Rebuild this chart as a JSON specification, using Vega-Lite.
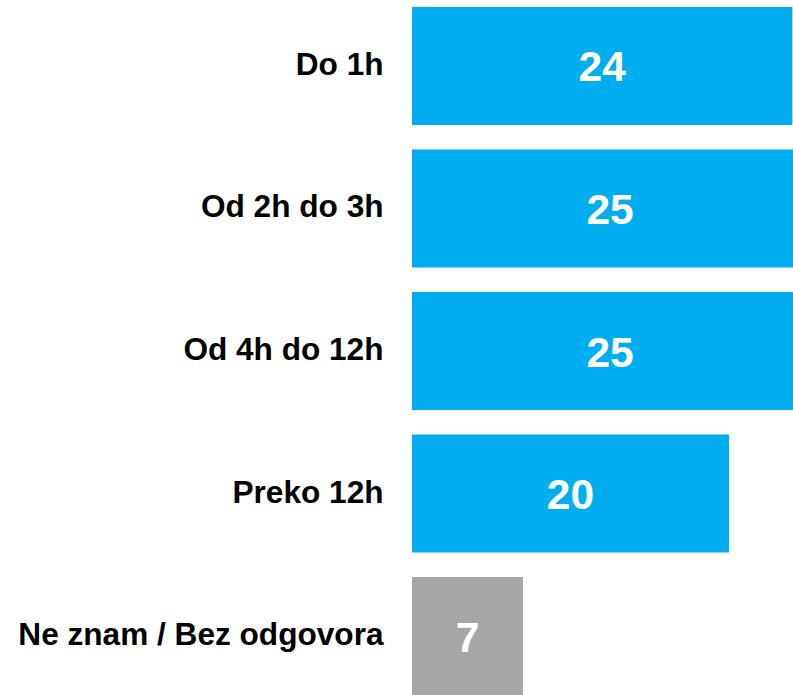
{
  "$schema": "https://vega.github.io/schema/vega-lite/v6.json",
  "autosize": "none",
  "width": 381,
  "height": 688,
  "padding": {"left": 412, "top": 7, "right": 0, "bottom": 0},
  "background": "white",
  "config": {"view": {"stroke": null}},
  "data": {
    "values": [
      {"category": "Do 1h", "value": 24, "group": "a"},
      {"category": "Od 2h do 3h", "value": 25, "group": "a"},
      {"category": "Od 4h do 12h", "value": 25, "group": "a"},
      {"category": "Preko 12h", "value": 20, "group": "a"},
      {"category": "Ne znam / Bez odgovora", "value": 7, "group": "b"}
    ]
  },
  "transform": [{"calculate": "datum.value / 2", "as": "mid"}],
  "encoding": {
    "y": {
      "field": "category",
      "type": "nominal",
      "sort": null,
      "scale": {"paddingInner": 0.172, "paddingOuter": 0},
      "axis": {
        "title": null,
        "domain": false,
        "ticks": false,
        "labelPadding": 29,
        "labelFont": "Liberation Sans",
        "labelFontWeight": "bold",
        "labelFontSize": 31.6,
        "labelColor": "#000000",
        "labelLimit": 500
      }
    }
  },
  "layer": [
    {
      "mark": {"type": "bar", "clip": true},
      "encoding": {
        "x": {
          "field": "value",
          "type": "quantitative",
          "scale": {"domain": [0, 24.04], "nice": false, "zero": true},
          "axis": null
        },
        "color": {
          "field": "group",
          "type": "nominal",
          "scale": {"domain": ["a", "b"], "range": ["#00AEEF", "#A6A6A6"]},
          "legend": null
        }
      }
    },
    {
      "mark": {
        "type": "text",
        "font": "Liberation Sans",
        "fontWeight": "bold",
        "fontSize": 42.5,
        "color": "white",
        "align": "center",
        "baseline": "middle",
        "dy": 2.5
      },
      "encoding": {
        "x": {"field": "mid", "type": "quantitative"},
        "text": {"field": "value", "type": "quantitative"}
      }
    }
  ]
}
